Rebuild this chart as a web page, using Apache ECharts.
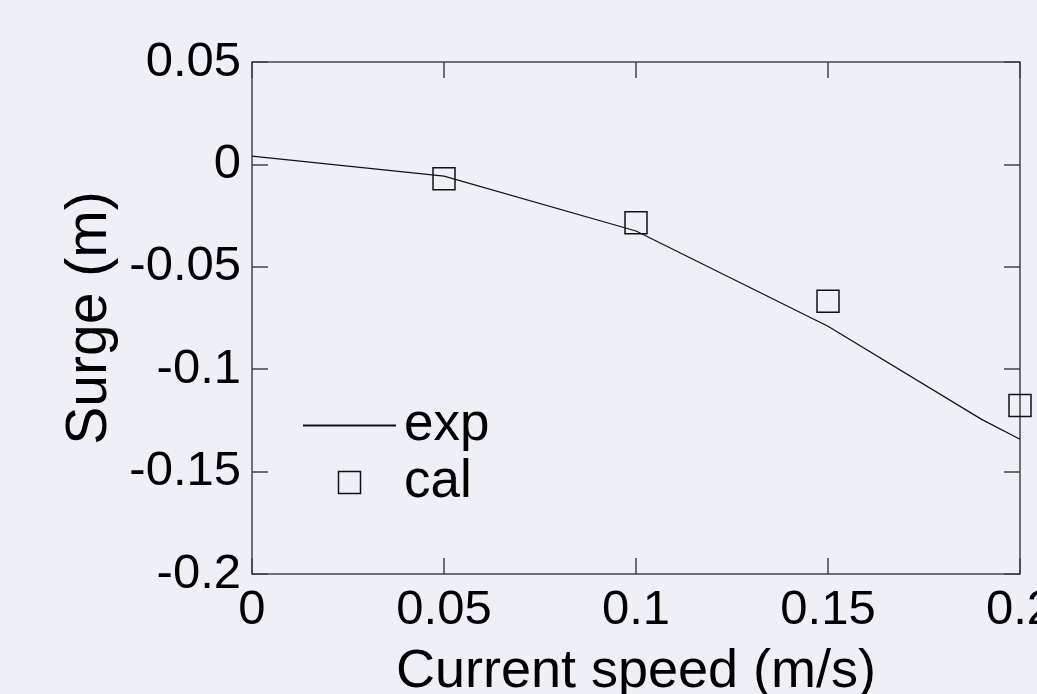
<!DOCTYPE html>
<html>
<head>
<meta charset="utf-8">
<title>Surge vs current speed</title>
<script src="https://cdn.jsdelivr.net/npm/echarts@6/dist/echarts.min.js"></script>
<style>
  html, body {
    margin: 0;
    padding: 0;
    background: #eff0f5;
  }
  #chart {
    width: 1037px;
    height: 694px;
  }
</style>
</head>
<body>
<div id="chart"></div>
<script>
/* exp: measured curve */
const expSpeed = [0, 0.05, 0.1, 0.15, 0.19, 0.2]
const expSurge = [0.004, -0.0057, -0.0325, -0.079, -0.1245, -0.1342]

/* cal: computed points */
const calSpeed = [0.05, 0.1, 0.15, 0.2]
const calSurge = [-0.007, -0.0285, -0.0668, -0.1177]

/* axis ranges */
const xMin = 0
const xMax = 0.2
const xStep = 0.05
const yMin = -0.2
const yMax = 0.05
const yStep = 0.05

const FONT = 'Liberation Sans, Arial, sans-serif'
const AXIS_COLOR = '#444'

// labels like 0.05 / -0.1 without float noise
const fmt = v => String(+v.toFixed(2))

const frameAxis = {
  axisLine: { show: true, onZero: false, lineStyle: { color: AXIS_COLOR, width: 1.5 } },
  axisTick: { show: true, inside: true, length: 16, lineStyle: { color: AXIS_COLOR, width: 1.5 } },
  splitLine: { show: false }
}

const myChart = echarts.init(document.getElementById('chart'))
myChart.setOption({
  backgroundColor: '#eff0f5',
  animation: false,
  textStyle: { fontFamily: FONT },
  grid: {
    left: 252,
    top: 62,
    width: 768,
    height: 512,
    containLabel: false,
    outerBoundsMode: 'none' // the "0.2" label is allowed to run off the page
  },
  legend: {
    orient: 'vertical',
    left: 302,
    top: 399,
    padding: 0,
    itemWidth: 93,
    itemHeight: 22,
    itemGap: 4,
    textStyle: { fontSize: 53, lineHeight: 50, color: '#000', fontFamily: FONT, padding: [0, 0, 0, 3] },
    data: [
      // line only, the marker dot is hidden
      { name: 'exp', itemStyle: { color: 'transparent', borderWidth: 0 } },
      {
        name: 'cal',
        icon: 'path://M0 0H10V10H0Z',
        itemStyle: { color: 'transparent', borderColor: '#111', borderWidth: 1.5 }
      }
    ]
  },
  xAxis: [
    {
      ...frameAxis,
      type: 'value',
      position: 'bottom',
      min: xMin,
      max: xMax,
      interval: xStep,
      name: 'Current speed (m/s)',
      nameLocation: 'middle',
      nameGap: 71,
      nameTextStyle: { fontSize: 54, color: '#000', fontFamily: FONT },
      axisLabel: { fontSize: 49, color: '#000', margin: 12, formatter: fmt, fontFamily: FONT }
    },
    {
      // mirror axis on top
      ...frameAxis,
      type: 'value',
      position: 'top',
      min: xMin,
      max: xMax,
      interval: xStep,
      axisLabel: { show: false }
    }
  ],
  yAxis: [
    {
      ...frameAxis,
      type: 'value',
      position: 'left',
      min: yMin,
      max: yMax,
      interval: yStep,
      name: 'Surge (m)',
      nameLocation: 'middle',
      nameGap: 129,
      nameTextStyle: { fontSize: 57, color: '#000', fontFamily: FONT },
      axisLabel: { fontSize: 49, color: '#000', margin: 11, formatter: fmt, fontFamily: FONT }
    },
    {
      // mirror axis on the right
      ...frameAxis,
      type: 'value',
      position: 'right',
      min: yMin,
      max: yMax,
      interval: yStep,
      axisLabel: { show: false }
    }
  ],
  series: [
    {
      name: 'exp',
      type: 'line',
      symbol: 'none',
      lineStyle: { color: '#111', width: 1.2 },
      itemStyle: { color: '#111' },
      data: expSpeed.map((x, i) => [x, expSurge[i]])
    },
    {
      name: 'cal',
      type: 'scatter',
      symbol: 'rect',
      symbolSize: 22,
      clip: false,
      itemStyle: { color: 'transparent', borderColor: '#111', borderWidth: 1.5, opacity: 1 },
      data: calSpeed.map((x, i) => [x, calSurge[i]])
    }
  ]
})
</script>
</body>
</html>
